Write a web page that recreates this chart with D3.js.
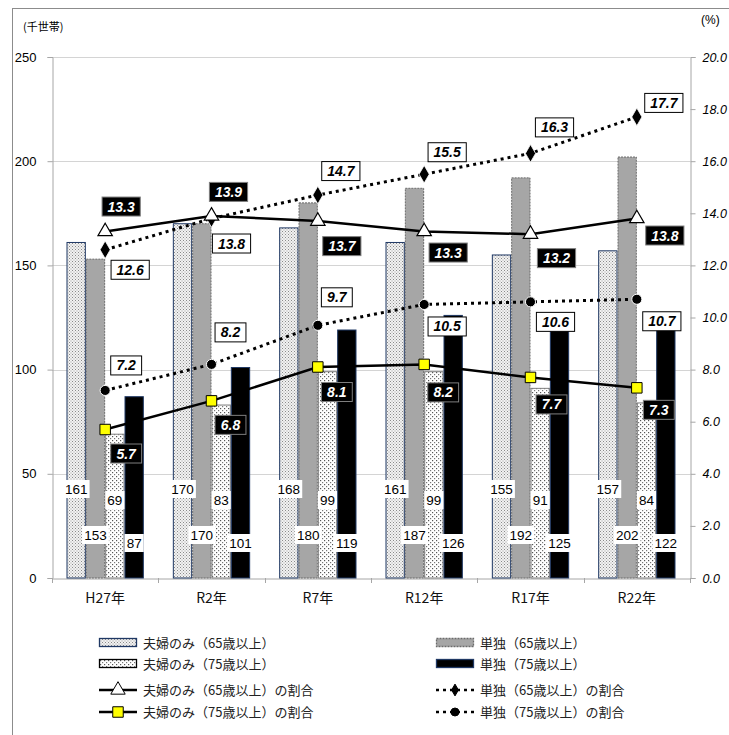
<!DOCTYPE html>
<html><head><meta charset="utf-8">
<script src="https://cdn.jsdelivr.net/npm/d3@7"></script>
<style>
body{margin:0;background:#fff;}
svg{display:block;}
</style></head>
<body><svg id="chart" width="729" height="735"></svg>
<script>
// ---- data ----
const categories = ["H27年","R2年","R7年","R12年","R17年","R22年"];
const couple65 = [161,170,168,161,155,157];
const single65 = [153,170,180,187,192,202];
const couple75 = [69,83,99,99,91,84];
const single75 = [87,101,119,126,125,122];
const couple65Rate = [13.3,13.9,13.7,13.3,13.2,13.8];
const couple75Rate = [5.7,6.8,8.1,8.2,7.7,7.3];
const single65Rate = [12.6,13.8,14.7,15.5,16.3,17.7];
const single75Rate = [7.2,8.2,9.7,10.5,10.6,10.7];
const leftTicks = [0,50,100,150,200,250];
const rightTicks = [0,2,4,6,8,10,12,14,16,18,20];
const seriesNames = ["夫婦のみ（65歳以上）","単独（65歳以上）","夫婦のみ（75歳以上）","単独（75歳以上）"];
const rateNames = ["夫婦のみ（65歳以上）の割合","単独（65歳以上）の割合","夫婦のみ（75歳以上）の割合","単独（75歳以上）の割合"];

// ---- layout ----
const L = 52, R = 690, T = 57, B = 578;
const svg = d3.select("#chart");
const FONT = "'Liberation Sans', Arial, sans-serif";
const JFONT = "'Noto Sans CJK JP', 'Noto Sans', sans-serif";

const defs = svg.append("defs");
const p1 = defs.append("pattern").attr("id","pat1").attr("width",3).attr("height",3).attr("patternUnits","userSpaceOnUse");
p1.append("rect").attr("width",3).attr("height",3).attr("fill","#f2f2f2");
p1.append("rect").attr("x",0).attr("y",0).attr("width",1).attr("height",1).attr("fill","#8a8a8a");
p1.append("rect").attr("x",1.5).attr("y",1.5).attr("width",1).attr("height",1).attr("fill","#a0a0a0");
const p3 = defs.append("pattern").attr("id","pat3").attr("width",4).attr("height",4).attr("patternUnits","userSpaceOnUse");
p3.append("rect").attr("width",4).attr("height",4).attr("fill","#ffffff");
p3.append("rect").attr("x",0).attr("y",0).attr("width",1.2).attr("height",1.2).attr("fill","#555");
p3.append("rect").attr("x",2).attr("y",2).attr("width",1.2).attr("height",1.2).attr("fill","#777");

// outer frame
svg.append("rect").attr("x",12.5).attr("y",8.5).attr("width",760).attr("height",760)
  .attr("fill","none").attr("stroke","#8c8c8c").attr("stroke-width",1);

const x = d3.scaleBand().domain(categories).range([L,R]).paddingInner(0).paddingOuter(0);
const xs = d3.scaleBand().domain([0,1,2,3]).range([0,x.bandwidth()]).paddingInner(0).paddingOuter(0.75);
const yL = d3.scaleLinear().domain([0,250]).range([B,T]);
const yR = d3.scaleLinear().domain([0,20]).range([B,T]);

// gridlines
svg.append("g").selectAll("line").data(leftTicks.slice(1)).join("line")
  .attr("x1",L).attr("x2",R).attr("y1",d=>Math.round(yL(d))+0.5).attr("y2",d=>Math.round(yL(d))+0.5)
  .attr("stroke","#d4d4d4").attr("stroke-width",1);

// left axis
const axL = svg.append("g").attr("transform",`translate(${L+0.5},0)`)
  .call(d3.axisLeft(yL).tickValues(leftTicks).tickSize(5).tickPadding(11).tickFormat(d3.format("d")));
axL.select(".domain").attr("stroke","#a6a6a6");
axL.selectAll(".tick line").attr("stroke","#a6a6a6");
axL.selectAll("text").attr("font-family",FONT).attr("font-size",13).attr("fill","#000");

// right axis
const axR = svg.append("g").attr("transform",`translate(${R+0.5},0)`)
  .call(d3.axisRight(yR).tickValues(rightTicks).tickSize(5).tickPadding(7).tickFormat(d3.format(".1f")));
axR.select(".domain").attr("stroke","#a6a6a6");
axR.selectAll(".tick line").attr("stroke","#a6a6a6");
axR.selectAll("text").attr("font-family",FONT).attr("font-size",12.5).attr("font-style","italic").attr("fill","#000");

// bottom axis
const axB = svg.append("g").attr("transform",`translate(0,${B+0.5})`)
  .call(d3.axisBottom(x).tickSize(0).tickPadding(15));
axB.select(".domain").attr("stroke","#a6a6a6");
axB.selectAll("text").attr("font-family",JFONT).attr("font-size",14).attr("fill","#111");
svg.append("g").selectAll("line").data(d3.range(categories.length+1)).join("line")
  .attr("x1",i=>Math.round(L + i*x.step())+0.5).attr("x2",i=>Math.round(L + i*x.step())+0.5)
  .attr("y1",B).attr("y2",B+5).attr("stroke","#a6a6a6");

// bars
const barSeries = [couple65, single65, couple75, single75];
const barFill = ["url(#pat1)","#a6a6a6","url(#pat3)","#000"];
const barStroke = ["#1f3864","#6b6b6b","#7f7f7f","#1f3864"];
const barDash = [null,"2,1",null,null];
barSeries.forEach((vals,si)=>{
  svg.append("g").selectAll("rect").data(vals).join("rect")
    .attr("x",(d,i)=>x(categories[i])+xs(si)+0.5)
    .attr("y",d=>yL(d))
    .attr("width",xs.bandwidth()-1)
    .attr("height",d=>B-yL(d))
    .attr("fill",barFill[si]).attr("stroke",barStroke[si]).attr("stroke-width",1)
    .attr("stroke-dasharray",barDash[si]);
});

// lines
const cx = i => x(categories[i]) + x.bandwidth()/2;
function drawLine(vals, dash){
  const line = d3.line().x((d,i)=>cx(i)).y(d=>yR(d));
  svg.append("path").datum(vals).attr("d",line).attr("fill","none")
    .attr("stroke","#000").attr("stroke-width",dash?3:2.5)
    .attr("stroke-dasharray",dash).attr("stroke-linecap",dash?"butt":"round");
}
drawLine(single65Rate,"3,4");
drawLine(single75Rate,"3,4");
drawLine(couple65Rate,null);
drawLine(couple75Rate,null);

const tri = d3.symbol().type(d3.symbolTriangle).size(90);
const sq = d3.symbol().type(d3.symbolSquare).size(110);
const dia = d3.symbol().type(d3.symbolDiamond).size(90);
const circ = d3.symbol().type(d3.symbolCircle).size(80);
function markers(vals, sym, fill, stroke, sw){
  svg.append("g").selectAll("path").data(vals).join("path")
    .attr("d",sym).attr("transform",(d,i)=>`translate(${cx(i)},${yR(d)})`)
    .attr("fill",fill).attr("stroke",stroke).attr("stroke-width",sw);
}
markers(single65Rate, dia, "#000", "#fff", 0.8);
markers(single75Rate, circ, "#000", "#fff", 1);
markers(couple65Rate, tri, "#fff", "#000", 1.2);
markers(couple75Rate, sq, "#ffff00", "#000", 1);

// bar value labels
const barLabelY = [489, 535, 500, 543];
barSeries.forEach((vals,si)=>{
  const g = svg.append("g");
  vals.forEach((v,i)=>{
    const bx = x(categories[i])+xs(si)+xs.bandwidth()/2;
    const t = String(v);
    const w = t.length*7.6+4;
    g.append("rect").attr("x",bx-w/2).attr("y",barLabelY[si]-9).attr("width",w).attr("height",18).attr("fill","#fff");
    g.append("text").attr("x",bx).attr("y",barLabelY[si]+5).attr("text-anchor","middle")
      .attr("font-family",FONT).attr("font-size",13.5).attr("fill","#000").text(t);
  });
});

// ratio labels
const offCouple65 = [[16,-25],[17,-24],[24,25],[24,21],[26,24],[28,17]];
const offSingle65 = [[25,20],[20,25],[23,-24],[23,-22],[24,-26],[27,-14]];
const offCouple75 = [[21,24],[19,24],[19,25],[19,28],[21,27],[22,22]];
const offSingle75 = [[21,-25],[19,-32],[19,-28],[23,22],[25,20],[25,22]];
function rateLabels(vals, offs, dark){
  const g = svg.append("g");
  vals.forEach((v,i)=>{
    const px = cx(i)+offs[i][0], py = yR(v)+offs[i][1];
    const t = v.toFixed(1);
    const w = t.length*7.3+9;
    g.append("rect").attr("x",px-w/2).attr("y",py-9.5).attr("width",w).attr("height",19)
      .attr("fill",dark?"#000":"#fff").attr("stroke",dark?"#7f7f7f":"#000").attr("stroke-width",1);
    g.append("text").attr("x",px).attr("y",py+5).attr("text-anchor","middle")
      .attr("font-family",FONT).attr("font-size",14).attr("font-weight","bold").attr("font-style","italic")
      .attr("fill",dark?"#fff":"#000").text(t);
  });
}
rateLabels(single65Rate, offSingle65, false);
rateLabels(single75Rate, offSingle75, false);
rateLabels(couple65Rate, offCouple65, true);
rateLabels(couple75Rate, offCouple75, true);

// unit labels
svg.append("text").attr("x",23).attr("y",31).attr("font-family",JFONT).attr("font-size",11).attr("fill","#000").text("(千世帯)");
svg.append("text").attr("x",701).attr("y",24).attr("font-family",FONT).attr("font-size",12).attr("fill","#000").text("(%)");

// legend
const legRows = [643,664,690,712];
const legCols = [99,436];
const lg = svg.append("g");
const legItems = [
  {col:0,row:0,type:"bar",fill:"url(#pat1)",stroke:"#1f3864",name:seriesNames[0]},
  {col:1,row:0,type:"bar",fill:"#a6a6a6",stroke:"#6b6b6b",dash:"2,1",name:seriesNames[1]},
  {col:0,row:1,type:"bar",fill:"url(#pat3)",stroke:"#000",name:seriesNames[2]},
  {col:1,row:1,type:"bar",fill:"#000",stroke:"#1f3864",name:seriesNames[3]},
  {col:0,row:2,type:"line",sym:tri,mfill:"#fff",mstroke:"#000",name:rateNames[0]},
  {col:1,row:2,type:"line",dash:"3,4",sym:d3.symbol().type(d3.symbolDiamond).size(40),mfill:"#000",mstroke:"#000",name:rateNames[1]},
  {col:0,row:3,type:"line",sym:sq,mfill:"#ffff00",mstroke:"#000",name:rateNames[2]},
  {col:1,row:3,type:"line",dash:"3,4",sym:d3.symbol().type(d3.symbolCircle).size(50),mfill:"#000",mstroke:"#000",name:rateNames[3]}
];
legItems.forEach(it=>{
  const x0 = legCols[it.col], yc = legRows[it.row];
  if(it.type==="bar"){
    lg.append("rect").attr("x",x0+0.5).attr("y",yc-4.5).attr("width",37).attr("height",8)
      .attr("fill",it.fill).attr("stroke",it.stroke).attr("stroke-width",1.3).attr("stroke-dasharray",it.dash||null);
  } else {
    lg.append("line").attr("x1",x0).attr("x2",x0+38).attr("y1",yc).attr("y2",yc)
      .attr("stroke","#000").attr("stroke-width",2.5).attr("stroke-dasharray",it.dash||null);
    lg.append("path").attr("d",it.sym).attr("transform",`translate(${x0+19},${yc})`)
      .attr("fill",it.mfill).attr("stroke",it.mstroke).attr("stroke-width",1);
  }
  lg.append("text").attr("x",x0+44).attr("y",yc+5).attr("font-family",JFONT).attr("font-size",13)
    .attr("fill","#222").text(it.name);
});
</script></body></html>
